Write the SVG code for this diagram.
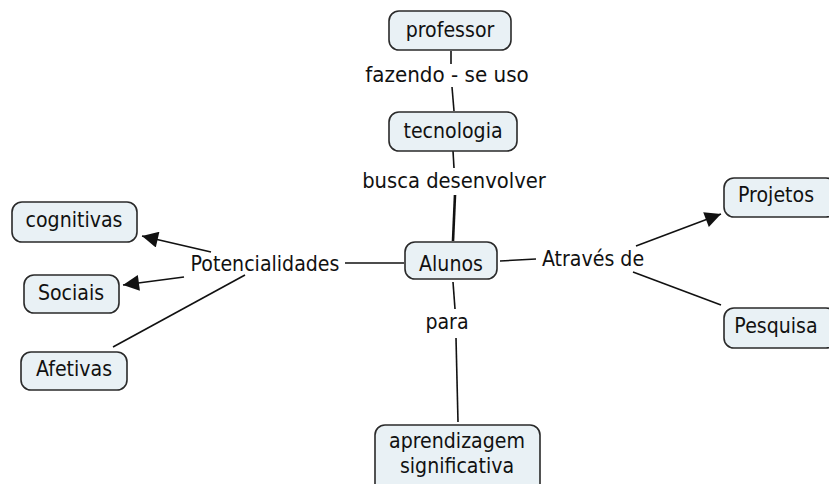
<svg xmlns="http://www.w3.org/2000/svg" width="829" height="484" viewBox="0 0 829 484">
<style>
.box{fill:#e9f1f5;stroke:#2a2a2a;stroke-width:1.6}
text{font-family:"DejaVu Sans",Verdana,sans-serif;font-size:19px;fill:#111;text-anchor:middle}
.ln{stroke:#111;stroke-width:1.6;fill:none}
</style>
<defs>
<marker id="ah" viewBox="0 0 10 10" refX="10" refY="5" markerWidth="22" markerHeight="16" markerUnits="userSpaceOnUse" orient="auto">
<path d="M0,0 L10,5 L0,10 Z" fill="#111"/>
</marker>
</defs>
<rect width="829" height="484" fill="#fff"/>
<g id="connectors">
<line class="ln" x1="451" y1="51" x2="451" y2="64"/>
<line class="ln" x1="452" y1="87" x2="454" y2="111"/>
<line class="ln" x1="453" y1="151" x2="454" y2="168"/>
<line class="ln" x1="455" y1="195" x2="453" y2="241" style="stroke-width:2.6"/>
<line class="ln" x1="345" y1="263" x2="404" y2="263"/>
<line class="ln" x1="211" y1="252" x2="142" y2="236" marker-end="url(#ah)"/>
<line class="ln" x1="184" y1="277" x2="123" y2="285" marker-end="url(#ah)"/>
<line class="ln" x1="245" y1="275" x2="113" y2="347"/>
<line class="ln" x1="500" y1="261" x2="536" y2="259"/>
<line class="ln" x1="636" y1="246" x2="721" y2="214" marker-end="url(#ah)"/>
<line class="ln" x1="633" y1="272" x2="721" y2="305"/>
<line class="ln" x1="453" y1="282" x2="455" y2="309"/>
<line class="ln" x1="456" y1="338" x2="458" y2="422"/>
</g>
<g id="professor"><rect class="box" x="389" y="11" width="122" height="39" rx="10"/><text transform="translate(450,37) scale(1,1.15)">professor</text></g>
<g id="lbl-fazendo"><text transform="translate(447,82) scale(1.05,1.15)">fazendo - se uso</text></g>
<g id="tecnologia"><rect class="box" x="389" y="112" width="128" height="39" rx="10"/><text transform="translate(453,138) scale(1,1.15)">tecnologia</text></g>
<g id="lbl-busca"><text transform="translate(454,188) scale(1.03,1.15)">busca desenvolver</text></g>
<g id="alunos"><rect class="box" x="405" y="242" width="92" height="37" rx="10"/><text transform="translate(451,271) scale(1,1.15)">Alunos</text></g>
<g id="lbl-potencialidades"><text transform="translate(265,271) scale(1,1.15)">Potencialidades</text></g>
<g id="lbl-atraves"><text transform="translate(593,266) scale(1,1.15)">Através de</text></g>
<g id="lbl-para"><text transform="translate(447,329) scale(1,1.15)">para</text></g>
<g id="cognitivas"><rect class="box" x="12" y="202" width="125" height="40" rx="10"/><text transform="translate(74,227) scale(1,1.15)">cognitivas</text></g>
<g id="sociais"><rect class="box" x="24" y="275" width="95" height="38" rx="10"/><text transform="translate(71,300) scale(1,1.15)">Sociais</text></g>
<g id="afetivas"><rect class="box" x="21" y="352" width="106" height="38" rx="10"/><text transform="translate(74,376) scale(1,1.15)">Afetivas</text></g>
<g id="projetos"><rect class="box" x="724" y="178" width="112" height="39" rx="10"/><text transform="translate(776,202) scale(1,1.15)">Projetos</text></g>
<g id="pesquisa"><rect class="box" x="724" y="308" width="112" height="40" rx="10"/><text transform="translate(776,333) scale(1,1.15)">Pesquisa</text></g>
<g id="aprendizagem"><rect class="box" x="375" y="425" width="165" height="70" rx="10"/><text transform="translate(457,448) scale(1,1.1)">aprendizagem</text><text transform="translate(457,473) scale(1,1.1)">significativa</text></g>
</svg>
